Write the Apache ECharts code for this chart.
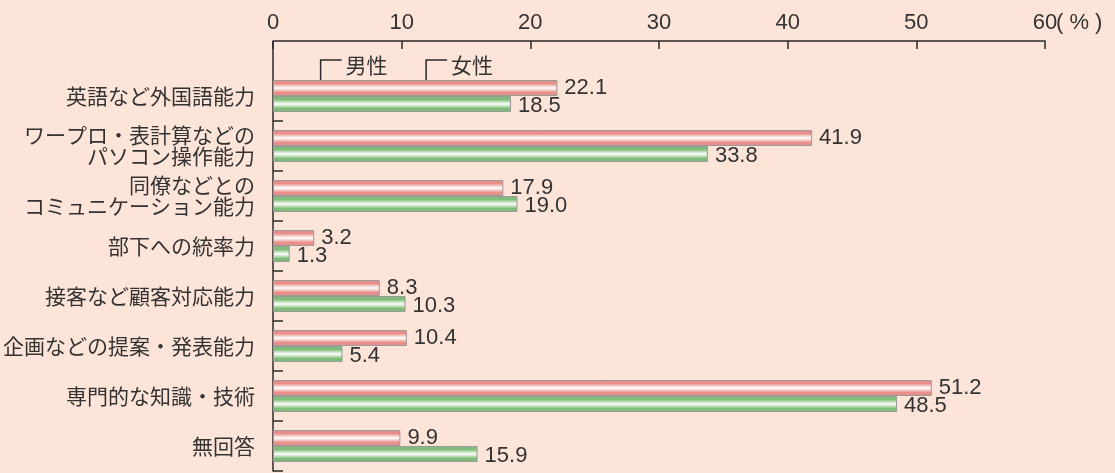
<!DOCTYPE html>
<html>
<head>
<meta charset="utf-8">
<script src="https://cdn.jsdelivr.net/npm/echarts@6/dist/echarts.min.js"></script>
<style>
  html, body { margin: 0; padding: 0; background: #fde4d8; }
  #chart { width: 1115px; height: 473px; }
</style>
</head>
<body>
<div id="chart"></div>
<script>
// Skills considered necessary, by sex (%)
const categories = [
  '英語など外国語能力',
  'ワープロ・表計算などの\nパソコン操作能力',
  '同僚などとの\nコミュニケーション能力',
  '部下への統率力',
  '接客など顧客対応能力',
  '企画などの提案・発表能力',
  '専門的な知識・技術',
  '無回答'
];
const maleValues   = [22.1, 41.9, 17.9, 3.2, 8.3, 10.4, 51.2, 9.9];
const femaleValues = [18.5, 33.8, 19.0, 1.3, 10.3, 5.4, 48.5, 15.9];
const seriesNames = ['男性', '女性'];
const unitLabel = '( % )';

const FONT_CJK = '"Noto Sans CJK JP", "Noto Sans", sans-serif';
const FONT_NUM = '"Liberation Sans", Arial, sans-serif';
const TEXT = '#333333';

const GRID_TOP = 71;
const AXIS_OFFSET = 30;
const BAR_W = 16;

function stripe(edge) {
  return {
    type: 'linear', x: 0, y: 0, x2: 0, y2: 1,
    colorStops: [
      { offset: 0, color: edge },
      { offset: 0.22, color: edge },
      { offset: 0.5, color: '#ffffff' },
      { offset: 0.78, color: edge },
      { offset: 1, color: edge }
    ]
  };
}

const chart = echarts.init(document.getElementById('chart'), null, { renderer: 'canvas' });

function valueLabel(dy) {
  return {
    show: true,
    position: 'right',
    distance: 7,
    offset: [0, dy],
    fontSize: 22,
    fontFamily: FONT_NUM,
    color: TEXT,
    formatter: p => p.value.toFixed(1)
  };
}

chart.setOption({
  backgroundColor: '#fde4d8',
  animation: false,
  grid: { left: 273, right: 70, top: GRID_TOP, bottom: 2 },
  xAxis: {
    type: 'value',
    position: 'top',
    offset: AXIS_OFFSET,
    min: 0, max: 60, interval: 10,
    axisLine: { show: true, lineStyle: { color: '#2a2a2a', width: 1.5 } },
    axisTick: { show: true, inside: true, length: 8, lineStyle: { color: '#2a2a2a', width: 1.5 } },
    axisLabel: { fontSize: 22, fontFamily: FONT_NUM, color: TEXT, margin: 7 },
    splitLine: { show: false }
  },
  yAxis: {
    type: 'category',
    inverse: true,
    data: categories,
    axisLine: { show: true, lineStyle: { color: '#2a2a2a', width: 1.5 } },
    axisTick: {
      show: true, inside: true, length: 10,
      interval: (i) => i !== 0,
      lineStyle: { color: '#2a2a2a', width: 1.5 }
    },
    axisLabel: {
      fontSize: 21, fontFamily: FONT_CJK, color: TEXT, margin: 18,
      lineHeight: 21, align: 'right'
    }
  },
  series: [
    {
      name: seriesNames[0],
      type: 'bar',
      data: maleValues,
      barWidth: BAR_W,
      barGap: '0%',
      itemStyle: { color: stripe('#e98f89'), borderColor: '#9a9a9a', borderWidth: 1 },
      label: valueLabel(0)
    },
    {
      name: seriesNames[1],
      type: 'bar',
      data: femaleValues,
      barWidth: BAR_W,
      barGap: '0%',
      itemStyle: { color: stripe('#80bd79'), borderColor: '#9a9a9a', borderWidth: 1 },
      label: valueLabel(2)
    }
  ]
});

// Annotations placed from the chart's own scales
function drawAnnotations() {
  const x0 = chart.convertToPixel({ xAxisIndex: 0 }, 0);
  const x60 = chart.convertToPixel({ xAxisIndex: 0 }, 60);
  const axisY = GRID_TOP - AXIS_OFFSET;
  const yc = chart.convertToPixel({ yAxisIndex: 0 }, categories[0]);
  const bracketY = 60;
  const mx = chart.convertToPixel({ xAxisIndex: 0 }, 3.7);
  const fx = chart.convertToPixel({ xAxisIndex: 0 }, 11.9);
  const lineStyle = { stroke: '#2a2a2a', lineWidth: 1.5 };

  chart.setOption({
    graphic: [
      // left axis continues up to the value axis
      { type: 'line', shape: { x1: x0, y1: axisY, x2: x0, y2: GRID_TOP }, style: lineStyle, silent: true },
      // unit after the last tick label
      { type: 'text', x: x60 + 11, y: axisY - 7,
        style: { text: unitLabel, font: '22px ' + FONT_NUM, fill: TEXT, textVerticalAlign: 'bottom' } },
      // series captions with leader brackets
      { type: 'polyline', shape: { points: [[mx, yc - BAR_W], [mx, bracketY], [mx + 21, bracketY]] }, style: Object.assign({ fill: null }, lineStyle) },
      { type: 'text', x: mx + 25, y: bracketY + 5,
        style: { text: seriesNames[0], font: '21px ' + FONT_CJK, fill: TEXT, textVerticalAlign: 'middle' } },
      { type: 'polyline', shape: { points: [[fx, yc + 2], [fx, bracketY], [fx + 21, bracketY]] }, style: Object.assign({ fill: null }, lineStyle) },
      { type: 'text', x: fx + 25, y: bracketY + 5,
        style: { text: seriesNames[1], font: '21px ' + FONT_CJK, fill: TEXT, textVerticalAlign: 'middle' } }
    ]
  });
}
drawAnnotations();
</script>
</body>
</html>
